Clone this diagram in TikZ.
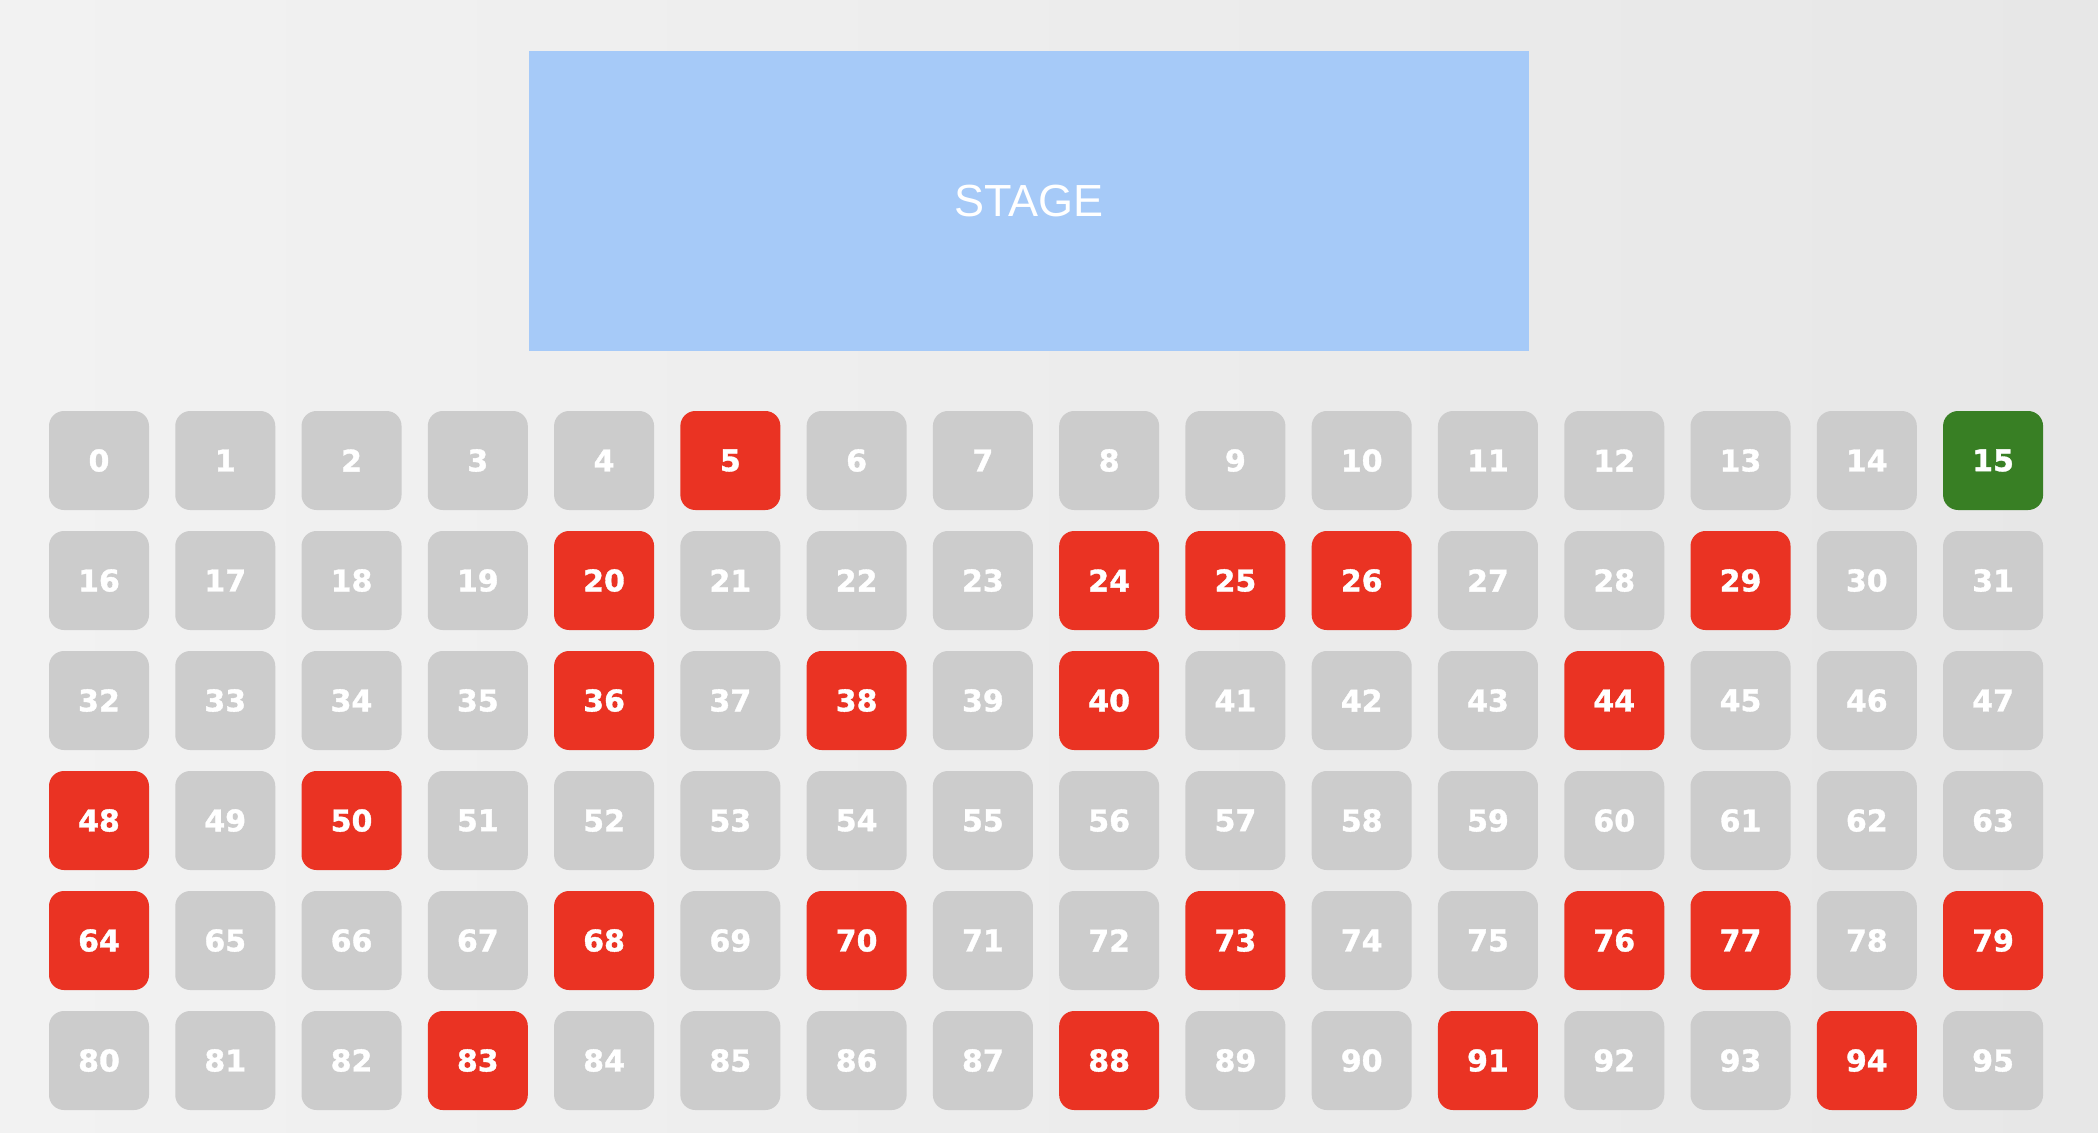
\documentclass[tikz,border=0pt]{standalone}
\usepackage{fontspec}
\setmainfont{Liberation Sans}
\newfontfamily\seatfont[FakeBold=1.2]{DejaVu Sans Bold}
\definecolor{bgA}{HTML}{F2F2F2}
\definecolor{bgB}{HTML}{E7E7E7}
\definecolor{stageblue}{HTML}{A6CAF8}
\definecolor{seatgray}{HTML}{CCCCCC}
\definecolor{seatred}{HTML}{EA3323}
\definecolor{seatgreen}{HTML}{387F24}
\tikzset{
  seatbox/.style={rounded corners=15pt, minimum width=100pt, minimum height=99pt, inner sep=0pt,
    font=\seatfont\fontsize{30}{30}\selectfont, text=white, fill=seatgray},
  taken/.style={fill=seatred},
  chosen/.style={fill=seatgreen},
  stagebox/.style={fill=stageblue, minimum width=1000pt, minimum height=300pt, inner sep=0pt,
    text=white, font=\fontsize{45}{45}\selectfont}
}
\begin{document}
\begin{tikzpicture}[x=1pt,y=-1pt]
\shade[left color=bgA, right color=bgB] (0,0) rectangle (2098,1132);
\useasboundingbox (0,0) rectangle (2098,1132);
\node[stagebox] (stage) at (1029,201) {STAGE};
\foreach \n in {0,...,95}{
  \pgfmathtruncatemacro{\c}{mod(\n,16)}
  \pgfmathtruncatemacro{\r}{div(\n,16)}
  \def\st{}
  \foreach \t in {5,20,24,25,26,29,36,38,40,44,48,50,64,68,70,73,76,77,79,83,88,91,94}{
    \ifnum\n=\t\relax\xdef\st{taken}\fi
  }
  \ifnum\n=15\relax\xdef\st{chosen}\fi
  \node[seatbox,\st] (seat\n) at ({99+126.27*\c},{460.5+120*\r}) {\n};
  \gdef\st{}
}
\end{tikzpicture}
\end{document}
